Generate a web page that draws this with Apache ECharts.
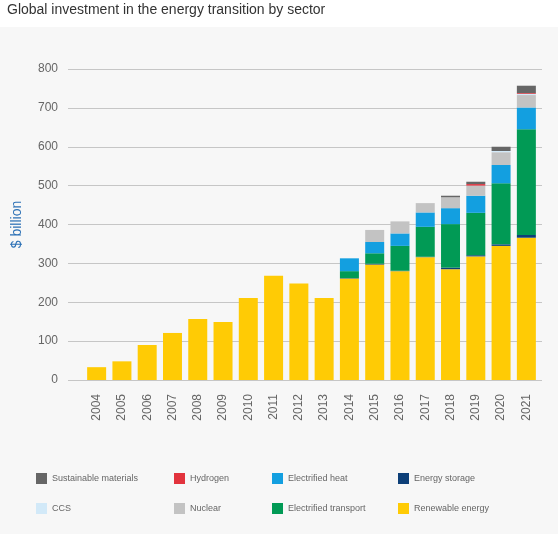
<!DOCTYPE html>
<html>
<head>
<meta charset="utf-8">
<script src="https://cdn.jsdelivr.net/npm/echarts@6/dist/echarts.min.js"></script>
<style>html,body{margin:0;padding:0;background:#fff;}#c{width:558px;height:534px;}</style>
</head>
<body>
<div id="c"></div>
<script>
const years = ['2004','2005','2006','2007','2008','2009','2010','2011','2012','2013','2014','2015','2016','2017','2018','2019','2020','2021'];
const yTicks = [0,100,200,300,400,500,600,700,800];
const renewable = [33,48,90,121,157,149,211,268,248,211,261,297,280,316,285,318,345,366];
const storage   = [0,0,0,0,0,0,0,0,0,0,1,2,1,1,4,3,4,7];
const transport = [0,0,0,0,0,0,0,0,0,0,18,27,64,77,112,109,157,272];
const heat      = [0,0,0,0,0,0,0,0,0,0,33,29,32,37,41,44,47,56];
const nuclear   = [0,0,0,0,0,0,0,0,0,0,0,31,31,24,28,25,33,32];
const ccs       = [0,0,0,0,0,0,0,0,0,0,0,0,0,0,0,1,3,3];
const hydrogen  = [0,0,0,0,0,0,0,0,0,0,0,0,0,0,0,4,0,2];
const materials = [0,0,0,0,0,0,0,0,0,0,0,0,0,0,4,6,11,19];

const seriesDefs = [
  {name:'Renewable energy', data:renewable, color:'#ffcb05'},
  {name:'Energy storage', data:storage, color:'#0d3f78'},
  {name:'Electrified transport', data:transport, color:'#019a55'},
  {name:'Electrified heat', data:heat, color:'#139fe0'},
  {name:'Nuclear', data:nuclear, color:'#c3c3c3'},
  {name:'CCS', data:ccs, color:'#d2e9f8'},
  {name:'Hydrogen', data:hydrogen, color:'#e2333d'},
  {name:'Sustainable materials', data:materials, color:'#666666'}
];
const legendCols = [
  {left:31, items:['Sustainable materials','CCS']},
  {left:169, items:['Hydrogen','Nuclear']},
  {left:267, items:['Electrified heat','Electrified transport']},
  {left:393, items:['Energy storage','Renewable energy']}
];

const chart = echarts.init(document.getElementById('c'), null, {renderer:'canvas'});
const font = 'Liberation Sans, Arial, sans-serif';
chart.setOption({
  backgroundColor:'#ffffff',
  animation:false,
  graphic:[{type:'rect', z:-10, silent:true, shape:{x:0,y:27,width:558,height:507}, style:{fill:'#f7f7f7'}}],
  title:{text:'Global investment in the energy transition by sector', left:7, top:3, padding:0,
    textStyle:{fontFamily:font, fontSize:14, fontWeight:'normal', color:'#333'}},
  legend: legendCols.map(c => ({
    data:c.items, left:c.left, top:468, orient:'vertical', itemWidth:11, itemHeight:11, itemGap:19,
    icon:'rect', selectedMode:false, textStyle:{fontFamily:font, fontSize:9, color:'#666'}
  })),
  grid:[
    {left:68, right:16, top:69, bottom:154},
    {left:84, right:19, top:69, bottom:154}
  ],
  xAxis:[
    {type:'value', gridIndex:0, show:false, min:0, max:1},
    {type:'category', gridIndex:1, data:years, axisLine:{show:false}, axisTick:{show:false},
     axisLabel:{rotate:90, margin:14, fontFamily:font, fontSize:12, color:'#666'}}
  ],
  yAxis:[
    {type:'value', gridIndex:0, min:0, max:800, interval:100,
     name:'$ billion', nameLocation:'middle', nameGap:44, nameRotate:90,
     nameTextStyle:{fontFamily:font, fontSize:14, color:'#2e72b6'},
     axisLine:{show:false}, axisTick:{show:false},
     axisLabel:{margin:10, fontFamily:font, fontSize:12, color:'#666',
       customValues: yTicks},
     splitLine:{lineStyle:{color:'#c6c6c6', width:1}}},
    {type:'value', gridIndex:1, min:0, max:800, show:false, splitLine:{show:false}}
  ],
  series: seriesDefs.map(s => ({
    name:s.name, type:'bar', stack:'total', xAxisIndex:1, yAxisIndex:1,
    data:s.data, barWidth:19, itemStyle:{color:s.color}
  }))
});
</script>
</body>
</html>
